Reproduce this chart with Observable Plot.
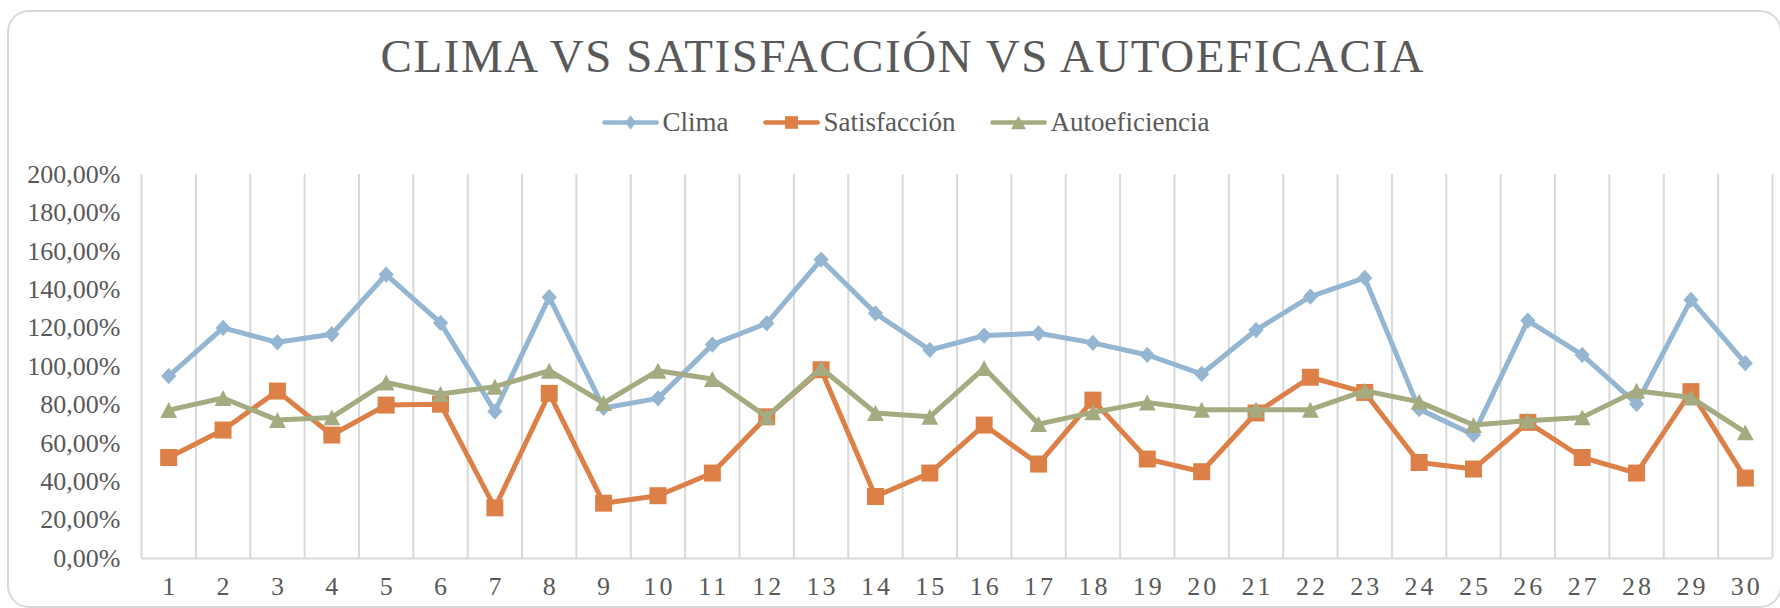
<!DOCTYPE html>
<html>
<head>
<meta charset="utf-8">
<script src="https://cdn.jsdelivr.net/npm/d3@7"></script>
<script src="https://cdn.jsdelivr.net/npm/@observablehq/plot@0.6"></script>
<style>
  html, body { margin: 0; padding: 0; background: #fff; }
  #wrap { position: relative; width: 1780px; height: 608px; overflow: hidden; background: #fff; }
  #chart { position: absolute; left: 0; top: 0; }
  #frame { position: absolute; left: 7px; top: 10px; width: 1775px; height: 598px;
           border: 2px solid #d9d9d9; border-radius: 22px; box-sizing: border-box; pointer-events: none; }
  #overlay { position: absolute; left: 0; top: 0; pointer-events: none; }
</style>
</head>
<body>
<div id="wrap">
  <div id="chart"></div>
  <div id="frame"></div>
  <svg id="overlay" width="1780" height="608"></svg>
</div>
<script>
// ---------------- data ----------------
const title = "CLIMA VS SATISFACCIÓN VS AUTOEFICACIA";
const seriesNames = ["Clima", "Satisfacción", "Autoeficiencia"];
const seriesColors = ["#94B6D2", "#DD8047", "#A5AB81"];
const categories = [1,2,3,4,5,6,7,8,9,10,11,12,13,14,15,16,17,18,19,20,21,22,23,24,25,26,27,28,29,30];
const yTicks = [0,20,40,60,80,100,120,140,160,180,200];
const clima = [95.0,120.1,112.6,116.8,147.9,122.7,76.6,136.1,78.4,83.4,111.4,122.5,155.7,127.7,108.6,116.1,117.3,112.3,106.0,96.1,119.0,136.4,146.1,77.8,64.5,123.9,106.0,80.5,134.7,101.7];
const satisfaccion = [52.6,66.9,87.2,64.3,79.9,80.4,26.4,86.0,28.8,32.7,44.5,73.8,98.3,32.3,44.5,69.5,49.2,82.5,51.8,45.2,75.8,94.4,86.5,50.0,46.6,70.9,52.6,44.5,86.9,41.9];
const autoeficiencia = [77.3,83.6,72.1,73.5,91.7,85.7,89.5,97.8,81.0,97.8,93.5,73.8,99.2,75.8,73.8,99.2,70.0,76.1,81.3,77.5,77.5,77.5,87.4,81.6,69.5,71.8,73.5,87.4,83.9,65.7];
// --------------------------------------

const FONT = '"Liberation Serif", "Times New Roman", serif';
const TEXT = "#595959";
const GRID = "#d9d9d9";

const locale = d3.formatLocale({decimal: ",", thousands: ".", grouping: [3], currency: ["", "€"], percent: "%"});
const pctFmt = locale.format(".2%");

// marker symbols (Excel-like, centred on the point); k = r
const diamondSym = {draw(ctx, size) { const k = Math.sqrt(size / Math.PI);
  ctx.moveTo(0, -1.07 * k); ctx.lineTo(k, 0); ctx.lineTo(0, 1.07 * k); ctx.lineTo(-k, 0); ctx.closePath(); }};
const squareSym = {draw(ctx, size) { const k = Math.sqrt(size / Math.PI);
  ctx.moveTo(-k, -k); ctx.lineTo(k, -k); ctx.lineTo(k, k); ctx.lineTo(-k, k); ctx.closePath(); }};
const triangleSym = {draw(ctx, size) { const k = Math.sqrt(size / Math.PI);
  ctx.moveTo(0, -0.95 * k); ctx.lineTo(k, 0.95 * k); ctx.lineTo(-k, 0.95 * k); ctx.closePath(); }};

const seriesValues = [clima, satisfaccion, autoeficiencia];
const symbols = [diamondSym, squareSym, triangleSym];
const markerR = [7.6, 8.5, 8.4];

const marks = [
  Plot.ruleX(categories.map(c => c - 0.5).concat([categories[categories.length - 1] + 0.5]),
    {y1: 0, y2: 200, stroke: GRID, strokeWidth: 2}),
  Plot.ruleY([0], {stroke: GRID, strokeWidth: 2.2})
];
seriesValues.forEach((vals, s) => {
  const data = categories.map((c, i) => ({x: c, v: vals[i]}));
  marks.push(Plot.line(data, {x: "x", y: "v", stroke: seriesColors[s], strokeWidth: 5, strokeLinejoin: "round"}));
  marks.push(Plot.dot(data, {x: "x", y: "v", symbol: symbols[s], r: markerR[s], fill: seriesColors[s], stroke: "none"}));
});

const plot = Plot.plot({
  width: 1780, height: 608,
  marginTop: 174, marginBottom: 50, marginLeft: 141, marginRight: 8,
  style: {background: "transparent", fontFamily: FONT, fontSize: "26px", color: TEXT, overflow: "visible"},
  x: {type: "linear", domain: [0.5, 30.5], ticks: categories, tickFormat: d => String(d),
      tickSize: 0, tickPadding: 18, label: null},
  y: {domain: [0, 200], ticks: yTicks, tickFormat: d => pctFmt(d / 100),
      tickSize: 0, tickPadding: 21, label: null},
  marks
});
document.getElementById("chart").appendChild(plot);
d3.select(plot).selectAll('[aria-label^="x-axis"] text')
  .attr("letter-spacing", "3px").attr("dx", "1.5");

// ---------- title & legend ----------
const ov = d3.select("#overlay");
ov.append("text")
  .attr("x", 902).attr("y", 72)
  .attr("text-anchor", "middle")
  .style("font-family", FONT).attr("font-size", 47)
  .attr("fill", TEXT)
  .attr("textLength", 1043).attr("lengthAdjust", "spacing")
  .text(title);

const lg = ov.append("g");
const swW = 56, gapT = 4, gapI = 35, legY = 122.5;
const legendSyms = [
  {w: 5.2, h: 7.3, type: "d"}, {w: 6.5, h: 6.3, type: "s"}, {w: 7.5, h: 6.8, type: "t"}
];
let items = seriesNames.map((name, i) => {
  const g = lg.append("g");
  const t = g.append("text").style("font-family", FONT).attr("font-size", 27).attr("fill", TEXT)
    .attr("y", legY + 8.5).text(name);
  return {g, t, w: t.node().getComputedTextLength(), i};
});
const total = items.reduce((a, it) => a + swW + gapT + it.w, 0) + gapI * (items.length - 1);
let x0 = 906 - total / 2;
items.forEach(it => {
  const c = seriesColors[it.i];
  it.g.append("line").attr("x1", x0 + 2).attr("x2", x0 + swW - 2).attr("y1", legY).attr("y2", legY)
    .attr("stroke", c).attr("stroke-width", 4.7).attr("stroke-linecap", "round");
  const cx = x0 + swW / 2, m = legendSyms[it.i];
  let d;
  if (m.type === "d") d = `M${cx},${legY - m.h}L${cx + m.w},${legY}L${cx},${legY + m.h}L${cx - m.w},${legY}Z`;
  else if (m.type === "s") d = `M${cx - m.w},${legY - m.h}H${cx + m.w}V${legY + m.h}H${cx - m.w}Z`;
  else d = `M${cx},${legY - m.h}L${cx + m.w},${legY + m.h}L${cx - m.w},${legY + m.h}Z`;
  it.g.append("path").attr("d", d).attr("fill", c);
  it.t.attr("x", x0 + swW + gapT);
  x0 += swW + gapT + it.w + gapI;
});
</script>
</body>
</html>
